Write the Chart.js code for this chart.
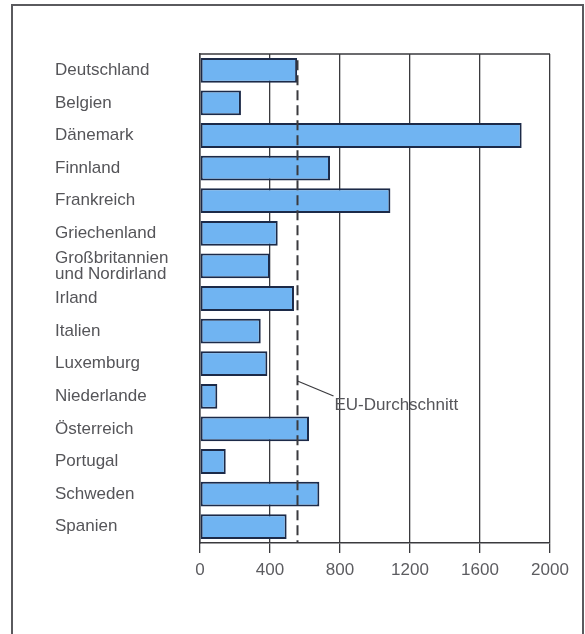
<!DOCTYPE html>
<html>
<head>
<meta charset="utf-8">
<script src="https://cdn.jsdelivr.net/npm/chart.js@4/dist/chart.umd.min.js"></script>
<style>
  html, body { margin: 0; padding: 0; background: #fff; }
  body { width: 585px; height: 634px; position: relative; overflow: hidden; }
  #frame { position: absolute; left: 11px; top: 4px; width: 573px; height: 660px; border: 2px solid #5a5a5e; box-sizing: border-box; }
  #wrap { position: absolute; left: 0; top: 0; width: 585px; height: 634px; }
</style>
</head>
<body>
<div id="frame"></div>
<div id="wrap"><canvas id="c"></canvas></div>
<script>
const LABELS = ['Deutschland', 'Belgien', 'Dänemark', 'Finnland', 'Frankreich', 'Griechenland',
  ['Großbritannien', 'und Nordirland'], 'Irland', 'Italien', 'Luxemburg', 'Niederlande',
  'Österreich', 'Portugal', 'Schweden', 'Spanien']
const VALUES = [555, 234, 1838, 743, 1088, 444, 400, 537, 347, 385, 99, 623, 147, 682, 495]
const EU_AVG = 556
const EU_LABEL = 'EU-Durchschnitt'
const X_MIN = 0, X_MAX = 2000, X_STEP = 400

const FONT = "'Liberation Sans', Arial, sans-serif"
const INK = '#3a3a3e'
const TXT = '#555559'

// top frame line of plot + EU average dashed line with its callout
const extras = {
  id: 'extras',
  afterDatasetsDraw (chart) {
    const { ctx, chartArea: a, scales: { x, y } } = chart
    ctx.save()
    ctx.strokeStyle = INK; ctx.lineWidth = 1.5
    ctx.beginPath(); ctx.moveTo(a.left, a.top); ctx.lineTo(a.right, a.top); ctx.stroke()

    const ex = Math.round(x.getPixelForValue(EU_AVG)) + 0.5
    ctx.lineWidth = 2; ctx.setLineDash([10, 5])
    ctx.beginPath(); ctx.moveTo(ex, y.getPixelForValue(0) - 10); ctx.lineTo(ex, a.bottom); ctx.stroke()
    ctx.setLineDash([])

    // leader to label, placed just below the Luxemburg row
    const ly = (y.getPixelForValue(9) + y.getPixelForValue(10)) / 2 + 1
    ctx.lineWidth = 1.2
    ctx.beginPath(); ctx.moveTo(ex, ly); ctx.lineTo(ex + 36, ly + 15); ctx.stroke()
    ctx.fillStyle = TXT; ctx.font = '17px ' + FONT
    ctx.textBaseline = 'middle'; ctx.textAlign = 'left'
    ctx.fillText(EU_LABEL, ex + 37, ly + 24)
    ctx.restore()
  }
}

new Chart(document.getElementById('c'), {
  type: 'bar',
  data: {
    labels: LABELS,
    datasets: [{
      data: VALUES,
      backgroundColor: '#70b4f2',
      borderColor: '#1c2a48',
      borderWidth: 2,
      borderSkipped: false,
      barPercentage: 0.76,
      categoryPercentage: 1
    }]
  },
  options: {
    indexAxis: 'y',
    responsive: true, maintainAspectRatio: false, animation: false,
    layout: { padding: { top: 54, right: 35, bottom: 51, left: 55 } },
    plugins: { legend: { display: false }, tooltip: { enabled: false } },
    scales: {
      x: {
        min: X_MIN, max: X_MAX,
        afterFit (s) { s.height = 40 },
        ticks: { stepSize: X_STEP, color: '#5c5c60', padding: 7, font: { size: 17, family: FONT },
          callback: v => String(v) },
        grid: { color: INK, lineWidth: 1.3, tickLength: 10 },
        border: { color: INK, width: 1.5 }
      },
      y: {
        afterFit (s) { s.width = 145 },
        ticks: { autoSkip: false, crossAlign: 'far', color: TXT, font: { size: 17, family: FONT, lineHeight: 0.95 } },
        grid: { display: false, drawTicks: false },
        border: { color: INK, width: 1.5 }
      }
    }
  },
  plugins: [extras]
})
</script>
</body>
</html>
